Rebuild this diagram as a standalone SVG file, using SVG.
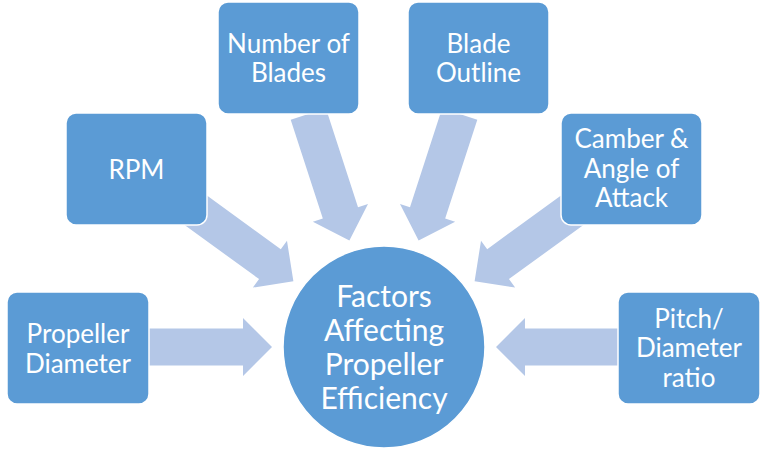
<svg xmlns="http://www.w3.org/2000/svg" xmlns:xlink="http://www.w3.org/1999/xlink" width="768" height="450" viewBox="0 0 768 450">
<style>
.box{fill:#5B9BD5;stroke:#FFFFFF;stroke-width:1.5}
.arrow{fill:#B4C7E7}
.t{font-family:Lato,"Open Sans","Liberation Sans",sans-serif;font-size:26px;fill:#FFFFFF;text-anchor:middle}
.tc{font-size:30px}
</style>
<defs>
<path id="arr" d="M-245,-18.5 L-141,-18.5 L-141,-29 L-112,0 L-141,29 L-141,18.5 L-245,18.5 Z"/>
</defs>
<rect width="768" height="450" fill="#FFFFFF"/>
<g id="connectors" class="arrow" transform="translate(384,347)">
<use xlink:href="#arr" href="#arr"/>
<use xlink:href="#arr" href="#arr" transform="rotate(36)"/>
<use xlink:href="#arr" href="#arr" transform="rotate(72)"/>
<use xlink:href="#arr" href="#arr" transform="rotate(108)"/>
<use xlink:href="#arr" href="#arr" transform="rotate(144)"/>
<use xlink:href="#arr" href="#arr" transform="rotate(180)"/>
</g>
<g id="center">
<circle cx="384" cy="347" r="101" class="box"/>
<text class="t tc" x="384" y="307">Factors</text>
<text class="t tc" x="384" y="341">Affecting</text>
<text class="t tc" x="384" y="375">Propeller</text>
<text class="t tc" x="384" y="409">Efficiency</text>
</g>
<g id="propeller-diameter">
<rect class="box" x="7" y="292" width="142" height="112" rx="10"/>
<text class="t" x="78" y="343">Propeller</text>
<text class="t" x="78" y="372.5">Diameter</text>
</g>
<g id="rpm">
<rect class="box" x="66" y="113" width="141" height="112" rx="10"/>
<text class="t" x="136.5" y="178.5">RPM</text>
</g>
<g id="number-of-blades">
<rect class="box" x="218" y="2" width="141" height="112" rx="10"/>
<text class="t" x="288.5" y="52.5">Number of</text>
<text class="t" x="288.5" y="82">Blades</text>
</g>
<g id="blade-outline">
<rect class="box" x="408" y="2" width="141" height="112" rx="10"/>
<text class="t" x="478.5" y="52.5">Blade</text>
<text class="t" x="478.5" y="82">Outline</text>
</g>
<g id="camber">
<rect class="box" x="561" y="113" width="141" height="112" rx="10"/>
<text class="t" x="631.5" y="148">Camber &amp;</text>
<text class="t" x="631.5" y="177.5">Angle of</text>
<text class="t" x="631.5" y="207">Attack</text>
</g>
<g id="pitch-diameter-ratio">
<rect class="box" x="618" y="292" width="142" height="112" rx="10"/>
<text class="t" x="689" y="327.5">Pitch/</text>
<text class="t" x="689" y="357">Diameter</text>
<text class="t" x="689" y="386.5">ratio</text>
</g>
</svg>
